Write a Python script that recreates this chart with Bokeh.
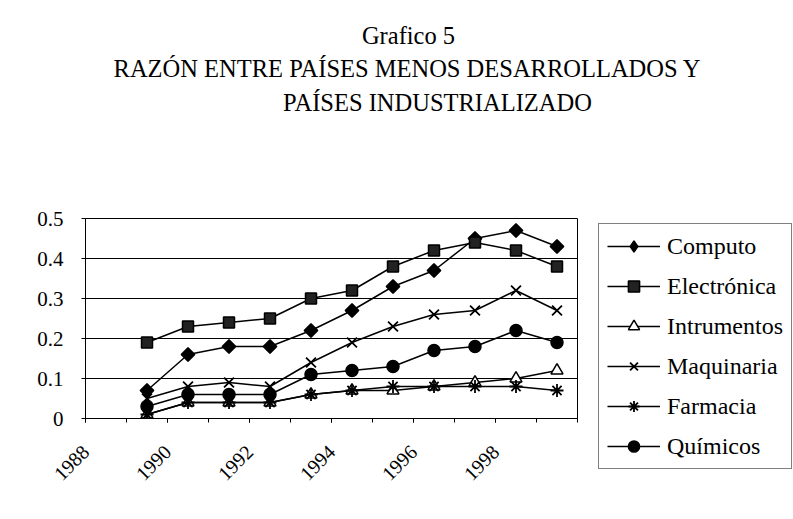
import math
from bokeh.plotting import figure
from bokeh.layouts import column, row
from bokeh.models import FixedTicker, Legend, LegendItem, Label, ColumnDataSource
from bokeh.transform import dodge
from bokeh.embed import file_html
from bokeh.resources import INLINE

# ---- data ----
years = [1989, 1990, 1991, 1992, 1993, 1994, 1995, 1996, 1997, 1998, 1999]
computo = [0.07, 0.16, 0.18, 0.18, 0.22, 0.27, 0.33, 0.37, 0.45, 0.47, 0.43]
electronica = [0.19, 0.23, 0.24, 0.25, 0.30, 0.32, 0.38, 0.42, 0.44, 0.42, 0.38]
intrumentos = [0.01, 0.04, 0.04, 0.04, 0.06, 0.07, 0.07, 0.08, 0.09, 0.10, 0.12]
maquinaria = [0.05, 0.08, 0.09, 0.08, 0.14, 0.19, 0.23, 0.26, 0.27, 0.32, 0.27]
farmacia = [0.01, 0.04, 0.04, 0.04, 0.06, 0.07, 0.08, 0.08, 0.08, 0.08, 0.07]
quimicos = [0.03, 0.06, 0.06, 0.06, 0.11, 0.12, 0.13, 0.17, 0.18, 0.22, 0.19]

series_names = ["Computo", "Electrónica", "Intrumentos", "Maquinaria", "Farmacia", "Químicos"]
series_values = [computo, electronica, intrumentos, maquinaria, farmacia, quimicos]

title_lines = ["Grafico 5",
               "RAZÓN ENTRE PAÍSES MENOS DESARROLLADOS Y",
               "PAÍSES INDUSTRIALIZADO"]

y_ticks = [0, 0.1, 0.2, 0.3, 0.4, 0.5]
y_tick_labels = ["0", "0.1", "0.2", "0.3", "0.4", "0.5"]
x_major_ticks = [1988, 1990, 1992, 1994, 1996, 1998]
x_minor_ticks = [1988, 1989, 1990, 1991, 1992, 1993, 1994, 1995, 1996, 1997, 1998, 1999, 2000]

FONT = "'Liberation Serif'"

# ---------------- title strip ----------------
t = figure(width=793, height=130, x_range=(0, 1), y_range=(0, 1),
           output_backend="svg", toolbar_location=None,
           x_axis_location=None, y_axis_location=None,
           min_border_left=0, min_border_right=0, min_border_top=0, min_border_bottom=0)
t.frame_align = False
t.grid.visible = False
t.outline_line_color = None
t.background_fill_color = "white"
t.border_fill_color = "white"
for txt, xx, yy in zip(title_lines, [408, 407, 437], [95, 62, 28]):
    t.add_layout(Label(x=xx, y=yy, x_units="screen", y_units="screen", text=txt,
                       text_align="center", text_baseline="alphabetic",
                       text_font=FONT, text_font_size="24.5px", text_color="black"))

# ---------------- main chart ----------------
p = figure(width=590, height=389, x_range=(1988, 2000), y_range=(0, 0.5),
           output_backend="svg", toolbar_location=None,
           min_border_left=85, min_border_right=13, min_border_top=88, min_border_bottom=101)
p.frame_align = False
p.background_fill_color = "white"
p.border_fill_color = "white"
p.outline_line_color = "black"
p.outline_line_width = 1

p.xaxis.ticker = FixedTicker(ticks=x_major_ticks, minor_ticks=x_minor_ticks)
p.xaxis.major_label_orientation = math.pi / 4
p.xaxis.major_tick_in = 0
p.xaxis.major_tick_out = 4
p.xaxis.minor_tick_in = 0
p.xaxis.minor_tick_out = 4
p.xaxis.major_label_standoff = 26
p.xaxis.major_label_text_font = FONT
p.xaxis.major_label_text_font_size = "20px"
p.xaxis.major_label_text_color = "black"
p.xaxis.axis_line_color = "black"

p.yaxis.ticker = FixedTicker(ticks=y_ticks)
p.yaxis.major_label_overrides = {tk: lb for tk, lb in zip(y_ticks, y_tick_labels)}
p.yaxis.major_tick_in = 0
p.yaxis.major_tick_out = 4
p.yaxis.minor_tick_line_color = None
p.yaxis.major_label_standoff = 18
p.yaxis.major_label_text_font = FONT
p.yaxis.major_label_text_font_size = "21px"
p.yaxis.major_label_text_color = "black"
p.yaxis.axis_line_color = "black"

p.xgrid.grid_line_color = None
p.ygrid.grid_line_color = "black"
p.ygrid.grid_line_width = 1

# plot marker, legend-key marker, size, angle, fill, marker line width
styles = [
    dict(marker="square", key="diamond", size=9.5, angle=math.pi / 4, fill_color="black", lw=1.5),
    dict(marker="square", key="square", size=11, angle=0, fill_color="#222222", lw=1.5),
    dict(marker="triangle", key="triangle", size=12, angle=0, fill_color="white", lw=1.5),
    dict(marker="x", key="x", size=14, angle=0, fill_color="black", lw=1.8),
    dict(marker="asterisk", key="asterisk", size=13, angle=0, fill_color="black", lw=1.8),
    dict(marker="circle", key="circle", size=12, angle=0, fill_color="black", lw=1.5),
]

# ---------------- legend panel ----------------
lg = figure(width=203, height=389, x_range=(0, 1), y_range=(0, 1),
            output_backend="svg", toolbar_location=None,
            x_axis_location=None, y_axis_location=None,
            min_border_left=0, min_border_right=0, min_border_top=0, min_border_bottom=0)
lg.frame_align = False
lg.grid.visible = False
lg.outline_line_color = None
lg.background_fill_color = "white"
lg.border_fill_color = "white"

items = []
for name, vals, st in zip(series_names, series_values, styles):
    src = ColumnDataSource(dict(year=years, v=vals))
    xs = dodge("year", 0.5)
    line_kw = dict(line_color="black", line_width=1.5)
    p.line(x=xs, y="v", source=src, **line_kw)
    p.scatter(x=xs, y="v", source=src, marker=st["marker"], size=st["size"],
              angle=st["angle"], fill_color=st["fill_color"],
              line_color="black", line_width=st["lw"])
    # same series in the legend panel (outside its visible range) to feed the legend keys
    l1 = lg.line(x=xs, y="v", source=src, **line_kw)
    l2 = lg.scatter(x=xs, y="v", source=src, marker=st["key"], size=st["size"],
                    fill_color=st["fill_color"], line_color="black", line_width=st["lw"])
    items.append(LegendItem(label=name, renderers=[l1, l2]))

legend = Legend(items=items, location=(8, 50))
legend.border_line_color = "black"
legend.border_line_width = 1
legend.background_fill_color = "white"
legend.background_fill_alpha = 1
legend.padding = 8
legend.spacing = 12
legend.margin = 0
legend.glyph_width = 53
legend.glyph_height = 28
legend.label_height = 28
legend.label_standoff = 7
legend.label_text_font = FONT
legend.label_text_font_size = "24px"
legend.label_text_color = "black"
legend.label_text_baseline = "middle"
lg.add_layout(legend, "center")

layout = column(t, row(p, lg))
open("out.html", "w").write(file_html(layout, INLINE))
